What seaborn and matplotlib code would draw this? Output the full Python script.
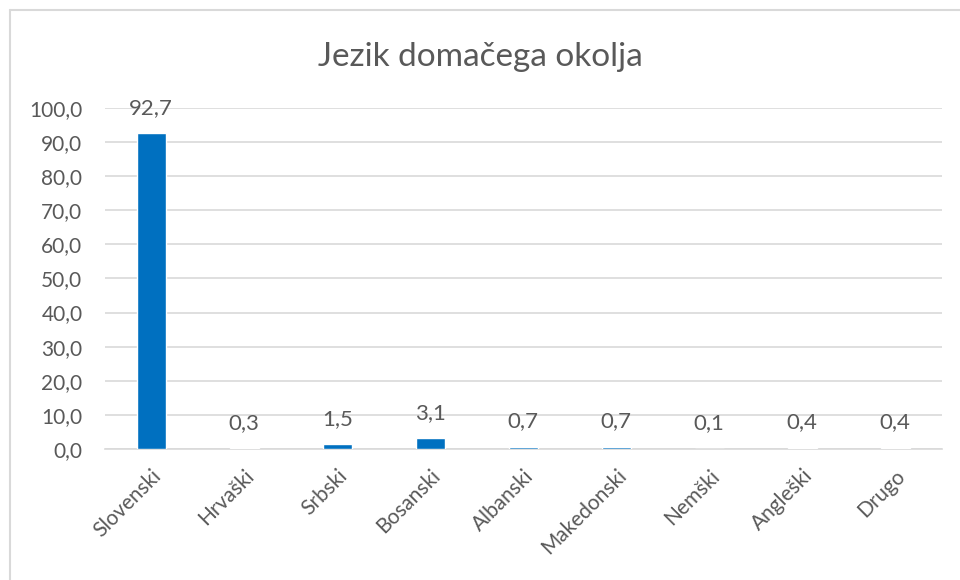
import matplotlib
matplotlib.use("Agg")
import matplotlib.pyplot as plt
import pandas as pd
import seaborn as sns
from matplotlib.lines import Line2D

# Data
languages = ["Slovenski", "Hrvaški", "Srbski", "Bosanski", "Albanski",
             "Makedonski", "Nemški", "Angleški", "Drugo"]
shares = [92.7, 0.3, 1.5, 3.1, 0.7, 0.7, 0.1, 0.4, 0.4]
y_ticks = [0, 10, 20, 30, 40, 50, 60, 70, 80, 90, 100]

df = pd.DataFrame({"jezik": languages, "delez": shares})

sns.set_theme(style="white")
plt.rcParams["font.family"] = ["Lato", "DejaVu Sans"]

text_col = "#595959"
grid_col = "#D9D9D9"

fig = plt.figure(figsize=(9.6, 5.8), dpi=100)
ax = fig.add_axes([0.109, 0.226, 0.872, 0.588])

sns.barplot(data=df, x="jezik", y="delez", color="#0070C0", saturation=1,
            width=0.31, ax=ax, zorder=3)

ax.set_ylim(0, 100)
ax.set_yticks(y_ticks)
ax.set_yticklabels([f"{v:.1f}".replace(".", ",") for v in y_ticks],
                   fontsize=15, color=text_col)
ax.set_xticks(range(len(languages)))
ax.set_xticklabels(languages, rotation=45, ha="right", rotation_mode="anchor",
                   fontsize=15, color=text_col)
ax.tick_params(axis="x", length=0, pad=12)
ax.tick_params(axis="y", length=0, pad=16)
ax.set_xlabel("")
ax.set_ylabel("")

ax.yaxis.grid(True, color=grid_col, linewidth=1.2, zorder=0)
for s in ["top", "right", "left"]:
    ax.spines[s].set_visible(False)
ax.spines["bottom"].set_color(grid_col)
ax.spines["bottom"].set_linewidth(1.2)

# value labels
for i, v in enumerate(shares):
    ax.annotate(f"{v:.1f}".replace(".", ","), xy=(i, v), xytext=(0, 18),
                textcoords="offset points", ha="center", va="center",
                fontsize=16, color=text_col)

fig.text(0.5, 0.902, "Jezik domačega okolja", ha="center", va="center",
         fontsize=24, color=text_col)

# chart border
fig.add_artist(Line2D([10 / 960, 1], [1 - 10 / 580, 1 - 10 / 580],
                      transform=fig.transFigure, color=grid_col, linewidth=1.5))
fig.add_artist(Line2D([10 / 960, 10 / 960], [0, 1 - 10 / 580],
                      transform=fig.transFigure, color=grid_col, linewidth=1.5))

fig.savefig("out.png", dpi=100)
